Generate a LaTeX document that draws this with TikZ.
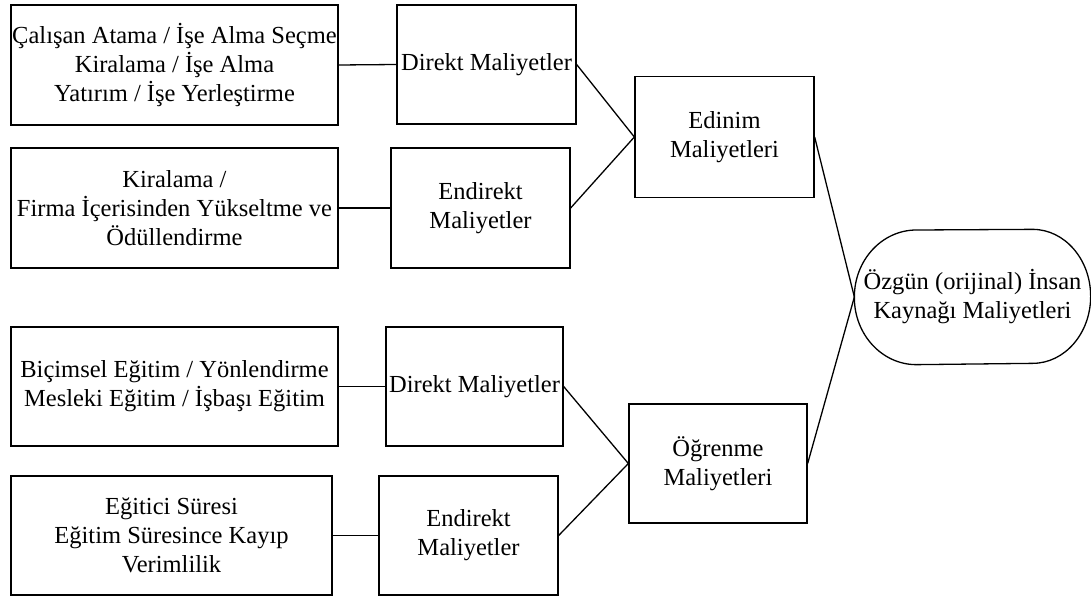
\documentclass[tikz,border=0pt]{standalone}
\usepackage{fontspec}
\setmainfont{Liberation Serif}
\begin{document}
\begin{tikzpicture}[x=1pt,y=-1pt,
  box/.style={draw, line width=1.3pt, rectangle, inner sep=0pt, align=center,
    font=\fontsize{24.5}{29}\selectfont},
  link/.style={line width=1.3pt}]
\useasboundingbox (0,0) rectangle (1091,599);
% left column
\node[box, minimum width=327pt, minimum height=120pt] (c1) at (174.5,65)
  {Çalışan Atama / İşe Alma Seçme\\Kiralama / İşe Alma\\Yatırım / İşe Yerleştirme};
\node[box, minimum width=327pt, minimum height=120pt] (c2) at (174.5,208)
  {Kiralama /\\Firma İçerisinden Yükseltme ve\\Ödüllendirme};
\node[box, minimum width=327pt, minimum height=119pt] (c3) at (174.5,386.5)
  {Biçimsel Eğitim / Yönlendirme\\Mesleki Eğitim / İşbaşı Eğitim};
\node[box, minimum width=321pt, minimum height=119pt] (c4) at (171.5,535.5)
  {Eğitici Süresi\\Eğitim Süresince Kayıp\\Verimlilik};
% middle column
\node[box, minimum width=179pt, minimum height=119pt] (d1) at (486.5,64.5) {Direkt Maliyetler};
\node[box, minimum width=179pt, minimum height=120pt] (e1) at (480.5,208) {Endirekt\\Maliyetler};
\node[box, minimum width=177pt, minimum height=119pt] (d2) at (474.5,386.5) {Direkt Maliyetler};
\node[box, minimum width=179pt, minimum height=119pt] (e2) at (468.5,535.5) {Endirekt\\Maliyetler};
% aggregates
\node[box, minimum width=179pt, minimum height=121pt] (ed) at (724.5,137) {Edinim\\Maliyetleri};
\node[box, minimum width=178pt, minimum height=119pt] (og) at (718,463.5) {Öğrenme\\Maliyetleri};
% final
\node[box, draw=none, minimum width=235pt, minimum height=134pt] (oz) at (972.5,297)
  {Özgün (orijinal) İnsan\\Kaynağı Maliyetleri};
\draw[link, line join=round] (oz.west)
  arc[start angle=180, end angle=90, x radius=62pt, y radius=67pt]
  -- ([xshift=-58pt]oz.north east)
  arc[start angle=90, end angle=-90, x radius=58pt, y radius=67pt]
  -- ([xshift=62pt]oz.south west)
  arc[start angle=270, end angle=180, x radius=62pt, y radius=67pt] -- cycle;
% connectors
\draw[link] (c1.east) -- (d1.west);
\draw[link] (c2.east) -- (e1.west);
\draw[link] (c3.east) -- (d2.west);
\draw[link] (c4.east) -- (e2.west);
\draw[link] (d1.east) -- (ed.west);
\draw[link] (e1.east) -- (ed.west);
\draw[link] (d2.east) -- (og.west);
\draw[link] (e2.east) -- (og.west);
\draw[link] (ed.east) -- (oz.west);
\draw[link] (og.east) -- (oz.west);
\end{tikzpicture}
\end{document}
